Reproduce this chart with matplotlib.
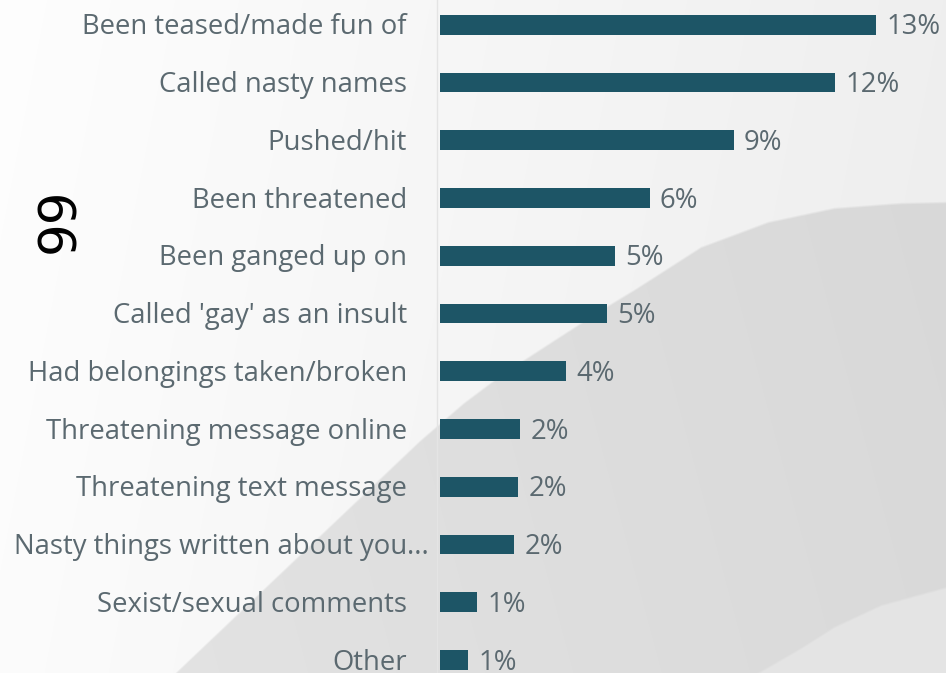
import numpy as np
import matplotlib
matplotlib.use("Agg")
import matplotlib.pyplot as plt
from matplotlib.transforms import offset_copy

# ---- data -------------------------------------------------------------
categories = [
    "Been teased/made fun of",
    "Called nasty names",
    "Pushed/hit",
    "Been threatened",
    "Been ganged up on",
    "Called 'gay' as an insult",
    "Had belongings taken/broken",
    "Threatening message online",
    "Threatening text message",
    "Nasty things written about you...",
    "Sexist/sexual comments",
    "Other",
]
values = [13.0, 11.78, 8.75, 6.25, 5.21, 4.98, 3.75, 2.41, 2.35, 2.21, 1.13, 0.86]

# ---- style ------------------------------------------------------------
W, H, DPI = 946, 673, 100
BAR_COLOR = "#1d5566"
TEXT_COLOR = "#5b6970"
FONT = ["Open Sans", "DejaVu Sans"]
FS = 19.8
BASE_DY = -7.0  # points: puts the text's cap-height centre on the bar centre

fig = plt.figure(figsize=(W / DPI, H / DPI), dpi=DPI)

# ---- soft grey backdrop with a sweeping curve -------------------------
yy, xx = np.mgrid[0:H, 0:W].astype(float)
top = 0.995 - 0.058 * (xx / W) - 0.008 * (yy / H)

edge_x = [0, 150, 175, 420, 463, 503, 600, 633, 700, 767, 833, 900, 946]
edge_y = [840, 700, 673, 440, 403, 373, 310, 290, 247, 222, 208, 203, 202]
edge = np.interp(xx, edge_x, edge_y)
m1 = np.clip((yy - edge) / 2.5 + 0.5, 0, 1)
grey = 0.888 - 0.042 * (xx / W) + 0.008 * (yy / H)

low_x = [0, 740, 757, 800, 833, 880, 946]
low_y = [900, 690, 673, 648, 627, 605, 587]
low = np.interp(xx, low_x, low_y)
m2 = np.clip((yy - low) / 2.5 + 0.5, 0, 1)
light = np.full_like(xx, 0.895)

img = top * (1 - m1) + grey * m1
img = img * (1 - m2) + light * m2
bg = fig.add_axes([0, 0, 1, 1], zorder=-10)
bg.imshow(np.dstack([img, img, img]), extent=[0, W, H, 0], aspect="auto",
          interpolation="bilinear")
bg.set_xlim(0, W)
bg.set_ylim(H, 0)
bg.axis("off")

# decorative quote glyph
fig.text(60 / W, 1 - 220 / H, "99", rotation=90, ha="center", va="center",
         fontsize=37, color="black", family=["DejaVu Sans"])

# ---- bar chart --------------------------------------------------------
px_per_unit = 33.6
axis_px = 437.0
bar0_px = 439.5
ax = fig.add_axes([axis_px / W, 0, 1 - axis_px / W, 1])
ax.patch.set_alpha(0)
ypos = np.arange(len(categories))
ax.barh(ypos, values, height=0.34, color=BAR_COLOR, left=0)
ax.set_xlim(-(bar0_px - axis_px) / px_per_unit, (W - bar0_px) / px_per_unit)
spacing = (660 - 24.7) / 11
ax.set_ylim(11 + (H - 660) / spacing, -24.7 / spacing)

for s in ["top", "right", "bottom"]:
    ax.spines[s].set_visible(False)
ax.spines["left"].set_color("#e4e4e4")
ax.spines["left"].set_linewidth(1.0)
ax.set_xticks([])
ax.set_yticks([])

# category labels, right-aligned left of the bars; a trailing ellipsis
# hangs past the alignment edge
for y, name in zip(ypos, categories):
    tr = offset_copy(ax.transData, fig=fig, x=-23.5, y=BASE_DY, units="points")
    tail = ""
    if name.endswith("..."):
        name, tail = name[:-3], "..."
    ax.text(0, y, name, transform=tr, ha="right", va="baseline",
            fontsize=FS, color=TEXT_COLOR, family=FONT)
    if tail:
        ax.text(0, y, tail, transform=tr, ha="left", va="baseline",
                fontsize=FS, color=TEXT_COLOR, family=FONT)

# value labels at the end of each bar
for y, v in zip(ypos, values):
    tr = offset_copy(ax.transData, fig=fig, x=7.5, y=BASE_DY, units="points")
    ax.text(v, y, f"{v:.0f}%", transform=tr, ha="left", va="baseline",
            fontsize=FS, color=TEXT_COLOR, family=FONT)

fig.savefig("out.png", dpi=DPI)
